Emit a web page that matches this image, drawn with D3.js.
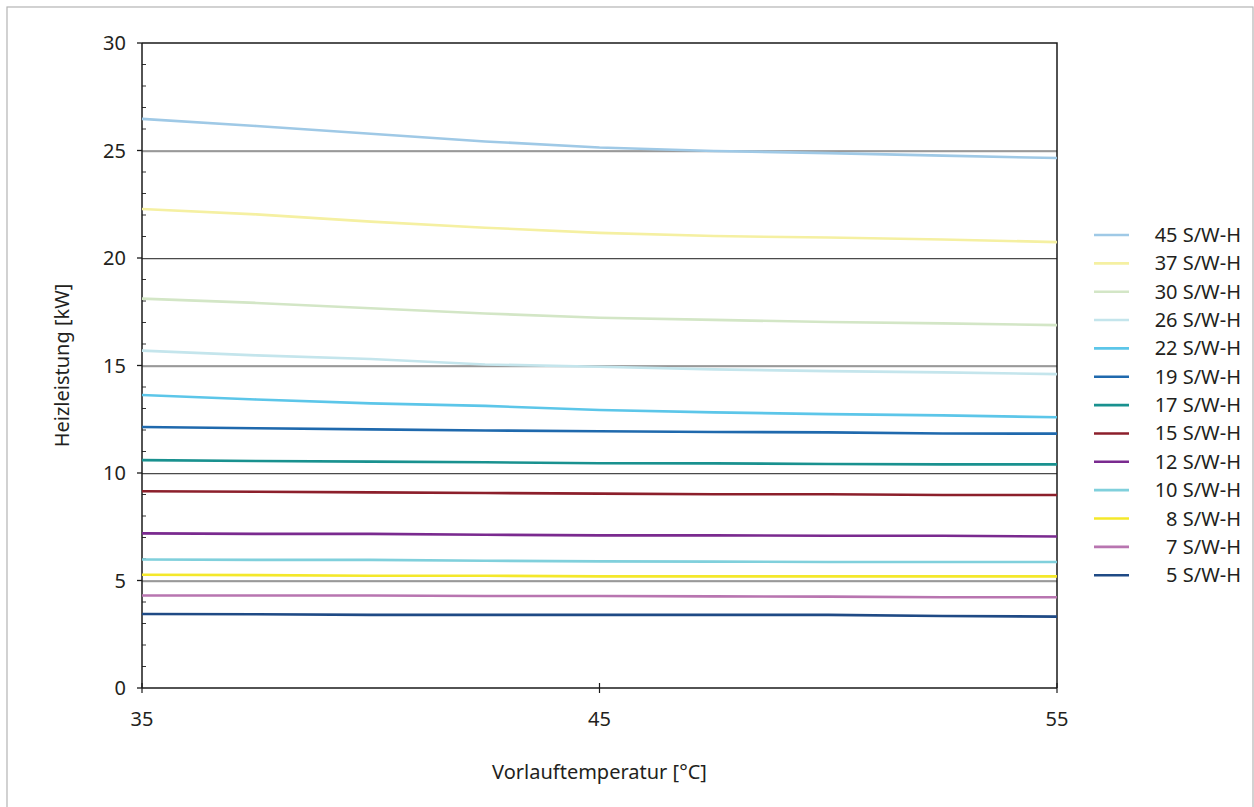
<!DOCTYPE html>
<html>
<head>
<meta charset="utf-8">
<script src="https://cdn.jsdelivr.net/npm/d3@7"></script>
<style>
  body { margin: 0; background: #fff; }
  svg text { font-family: "Noto Sans", "Open Sans", sans-serif; fill: #231f20; }
  .tick-lbl { font-size: 20px; }
  .axis-title { font-size: 20px; }
  .legend-lbl { font-size: 20px; }
</style>
</head>
<body>
<svg class="chart" width="1254" height="807"></svg>
<script>
// flow temperature (x) in °C
var temps = [35, 37.5, 40, 42.5, 45, 47.5, 50, 52.5, 55];

// heating output [kW] per brine/water unit
var s45 = [26.47, 26.14, 25.78, 25.42, 25.14, 24.98, 24.88, 24.76, 24.65];
var s37 = [22.28, 22.03, 21.69, 21.41, 21.17, 21.02, 20.95, 20.86, 20.74];
var s30 = [18.11, 17.91, 17.66, 17.42, 17.22, 17.12, 17.02, 16.96, 16.88];
var s26 = [15.69, 15.47, 15.30, 15.05, 14.94, 14.82, 14.74, 14.68, 14.60];
var s22 = [13.63, 13.42, 13.24, 13.12, 12.93, 12.82, 12.74, 12.68, 12.59];
var s19 = [12.14, 12.08, 12.03, 11.98, 11.94, 11.91, 11.89, 11.84, 11.83];
var s17 = [10.60, 10.56, 10.53, 10.50, 10.45, 10.45, 10.42, 10.40, 10.40];
var s15 = [9.15, 9.13, 9.10, 9.07, 9.04, 9.01, 9.01, 8.98, 8.98];
var s12 = [7.19, 7.17, 7.17, 7.13, 7.10, 7.10, 7.08, 7.08, 7.05];
var s10 = [5.98, 5.96, 5.96, 5.92, 5.89, 5.88, 5.86, 5.86, 5.86];
var s8  = [5.27, 5.25, 5.22, 5.22, 5.19, 5.19, 5.19, 5.19, 5.19];
var s7  = [4.30, 4.30, 4.30, 4.28, 4.28, 4.26, 4.25, 4.22, 4.22];
var s5  = [3.44, 3.43, 3.40, 3.40, 3.40, 3.40, 3.40, 3.35, 3.32];

var seriesNames = ['45 S/W-H', '37 S/W-H', '30 S/W-H', '26 S/W-H', '22 S/W-H', '19 S/W-H',
                   '17 S/W-H', '15 S/W-H', '12 S/W-H', '10 S/W-H', '8 S/W-H', '7 S/W-H', '5 S/W-H'];
var seriesValues = [s45, s37, s30, s26, s22, s19, s17, s15, s12, s10, s8, s7, s5];
var seriesColors = ['#9fc9e6', '#f5f0a2', '#d3e6c6', '#c4e5ec', '#5cc6e9', '#1f69ad',
                    '#19918f', '#8c1f2b', '#7a2a8f', '#80d0dc', '#f4e82a', '#b875b0', '#1f4a85'];

var xTicks = [35, 45, 55];
var yTicks = [0, 5, 10, 15, 20, 25, 30];

var plot = {left: 142, right: 1057, top: 43, bottom: 688};

var svg = d3.select('svg.chart');

// outer frame
svg.append('rect')
   .attr('x', 7).attr('y', 7)
   .attr('width', 1246).attr('height', 820)
   .attr('fill', 'none')
   .attr('stroke', '#b4b4b4')
   .attr('stroke-width', 1.2);

var x = d3.scaleLinear().domain([35, 55]).range([plot.left, plot.right]);
var y = d3.scaleLinear().domain([0, 30]).range([plot.bottom, plot.top]);

// horizontal grid lines
var gridVals = yTicks.filter(d => d > 0 && d < 30);
svg.append('g').selectAll('line')
   .data(gridVals)
   .enter().append('line')
   .attr('x1', plot.left).attr('x2', plot.right)
   .attr('y1', d => y(d) + 1.5).attr('y2', d => y(d) + 1.5)
   .attr('stroke', '#d0d0d0').attr('stroke-width', 1);
svg.append('g').selectAll('line')
   .data(gridVals)
   .enter().append('line')
   .attr('x1', plot.left).attr('x2', plot.right)
   .attr('y1', d => y(d) + 0.5).attr('y2', d => y(d) + 0.5)
   .attr('stroke', '#4a4a4a').attr('stroke-width', 1.2);

// top and right frame of plot area
svg.append('path')
   .attr('d', `M${plot.left},${plot.top}H${plot.right}V${plot.bottom}`)
   .attr('fill', 'none').attr('stroke', '#1a1a1a').attr('stroke-width', 1.5);

// y axis: minor ticks inside, major ticks outside
var yMinor = d3.range(1, 30).filter(d => d % 5 !== 0);
svg.append('g').selectAll('line')
   .data(yMinor).enter().append('line')
   .attr('x1', plot.left).attr('x2', plot.left + 4)
   .attr('y1', d => y(d)).attr('y2', d => y(d))
   .attr('stroke', '#333').attr('stroke-width', 1);
svg.append('g').selectAll('line')
   .data(yTicks).enter().append('line')
   .attr('x1', plot.left - 5).attr('x2', plot.left)
   .attr('y1', d => y(d)).attr('y2', d => y(d))
   .attr('stroke', '#1a1a1a').attr('stroke-width', 1.3);
svg.append('line')
   .attr('x1', plot.left).attr('x2', plot.left)
   .attr('y1', plot.top).attr('y2', plot.bottom)
   .attr('stroke', '#1a1a1a').attr('stroke-width', 1.5);
svg.append('g').selectAll('text')
   .data(yTicks).enter().append('text')
   .attr('class', 'tick-lbl')
   .attr('x', 126).attr('y', d => y(d))
   .attr('dy', '0.35em')
   .attr('text-anchor', 'end')
   .text(d => d);

// x axis
svg.append('line')
   .attr('x1', plot.left).attr('x2', plot.right)
   .attr('y1', plot.bottom).attr('y2', plot.bottom)
   .attr('stroke', '#1a1a1a').attr('stroke-width', 1.5);
svg.append('g').selectAll('line')
   .data(xTicks).enter().append('line')
   .attr('x1', d => x(d)).attr('x2', d => x(d))
   .attr('y1', plot.bottom - 5).attr('y2', plot.bottom + 5)
   .attr('stroke', '#1a1a1a').attr('stroke-width', 1.2);
svg.append('g').selectAll('text')
   .data(xTicks).enter().append('text')
   .attr('class', 'tick-lbl')
   .attr('x', d => x(d)).attr('y', 726)
   .attr('text-anchor', 'middle')
   .text(d => d);

// axis titles
svg.append('text')
   .attr('class', 'axis-title')
   .attr('x', (plot.left + plot.right) / 2).attr('y', 779)
   .attr('text-anchor', 'middle')
   .text('Vorlauftemperatur [°C]');
svg.append('text')
   .attr('class', 'axis-title')
   .attr('transform', `translate(69,${(plot.top + plot.bottom) / 2}) rotate(-90)`)
   .attr('text-anchor', 'middle')
   .text('Heizleistung [kW]');

// curves (drawn bottom series first)
var line = d3.line()
   .x((d, i) => x(temps[i]))
   .y(d => y(d));

var curves = svg.append('g');
for (var k = seriesValues.length - 1; k >= 0; k--) {
   curves.append('path')
      .attr('d', line(seriesValues[k]))
      .attr('fill', 'none')
      .attr('stroke', seriesColors[k])
      .attr('stroke-width', 2.6)
      .attr('stroke-linejoin', 'round');
}

// legend
var legend = svg.append('g');
seriesNames.forEach(function(name, i) {
   var ly = 235 + i * 28.35;
   legend.append('line')
      .attr('x1', 1094).attr('x2', 1129)
      .attr('y1', ly).attr('y2', ly)
      .attr('stroke', seriesColors[i])
      .attr('stroke-width', 2.6);
   legend.append('text')
      .attr('class', 'legend-lbl')
      .attr('x', 1241).attr('y', ly)
      .attr('dy', '0.35em')
      .attr('text-anchor', 'end')
      .text(name);
});
</script>
</body>
</html>
